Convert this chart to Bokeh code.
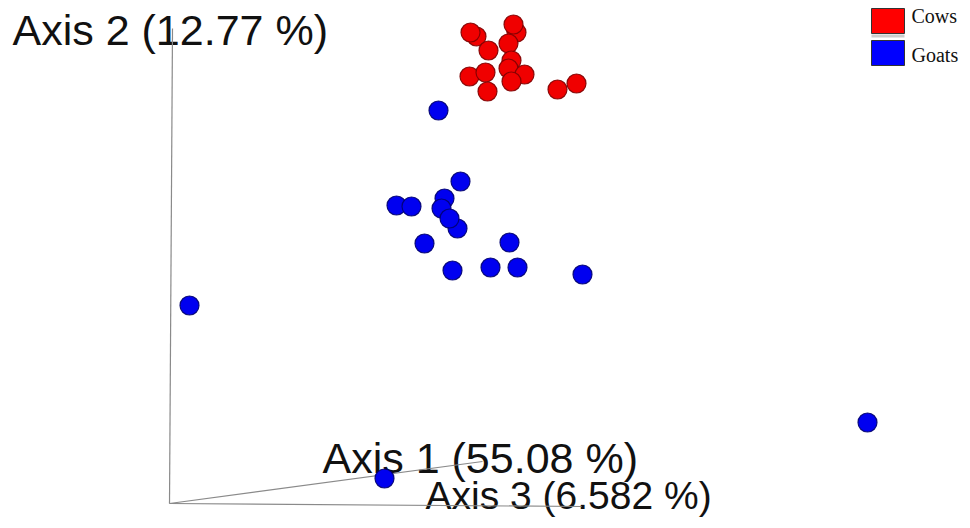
from bokeh.plotting import figure
from bokeh.models import Range1d
from bokeh.core.properties import value
from bokeh.embed import file_html
from bokeh.resources import INLINE

# Projected PCoA scores (screen-projected 3D view)
cows_x = [476, 470, 488, 516, 513, 508, 511, 508, 524, 511, 469, 485, 487, 557, 576]
cows_y = [36, 32, 50, 32, 24, 43, 60, 68, 74, 81, 76, 72, 91, 89, 83]

goats_x = [438, 460, 396, 411, 444, 441, 457, 449, 424, 509, 452, 490, 517, 582, 189, 867, 384]
goats_y = [110, 181, 205, 206, 198, 208, 228, 218, 243, 242, 270, 267, 267, 274, 305, 422, 478]

# Projected axes
axis_labels = ["Axis 1 (55.08 %)", "Axis 2 (12.77 %)", "Axis 3 (6.582 %)"]
axis_origin_x = [169, 169, 169]
axis_origin_y = [503, 503, 503]
axis_end_x = [482, 172, 581]
axis_end_y = [461, 28, 506]
label_x = [322, 12, 425]
label_y = [457, 29, 495]
label_size = ["43px", "43px", "39px"]

legend_names = ["Cows", "Goats"]
legend_colors = ["#ff0000", "#0000ff"]

W, H = 962, 520
p = figure(width=W, height=H, output_backend="svg", toolbar_location=None,
           x_range=Range1d(0, W), y_range=Range1d(H, 0),
           min_border=0, outline_line_color=None)
p.axis.visible = False
p.grid.visible = False
p.background_fill_color = "white"
p.border_fill_color = "white"

# axis labels (drawn first so lines cross over them)
for i in range(3):
    p.text(x=[label_x[i]], y=[label_y[i]], text=[axis_labels[i]],
           text_font=value("Liberation Sans"), text_font_size=label_size[i],
           text_color="#111111", text_baseline="alphabetic", text_align="left")

# axis lines
p.segment(x0=axis_origin_x, y0=axis_origin_y, x1=axis_end_x, y1=axis_end_y,
          line_color="#8a8a8a", line_width=1.2)

# points
p.scatter(cows_x, cows_y, size=19, fill_color="#f00000", line_color="#800000",
          line_width=1.2, line_alpha=0.9)
p.scatter(goats_x, goats_y, size=19, fill_color="#0000f0", line_color="#000070",
          line_width=1.2, line_alpha=0.9)

# legend
rect_left, rect_right = 871, 904
rect_top = [8, 40]
rect_bottom = [33, 65]
p.quad(left=[rect_left] * 2, right=[rect_right] * 2, top=rect_top, bottom=rect_bottom,
       fill_color=legend_colors, line_color="#333333", line_width=1)
p.quad(left=[rect_left], right=[rect_right], top=[34], bottom=[37], fill_color="#cccccc",
       line_color=None)
p.text(x=[911, 911], y=[15, 54], text=legend_names,
       text_font=value("Liberation Serif"), text_font_size="20px",
       text_color="#111111", text_baseline="alphabetic", text_align="left")

open("out.html", "w").write(file_html(p, INLINE))
